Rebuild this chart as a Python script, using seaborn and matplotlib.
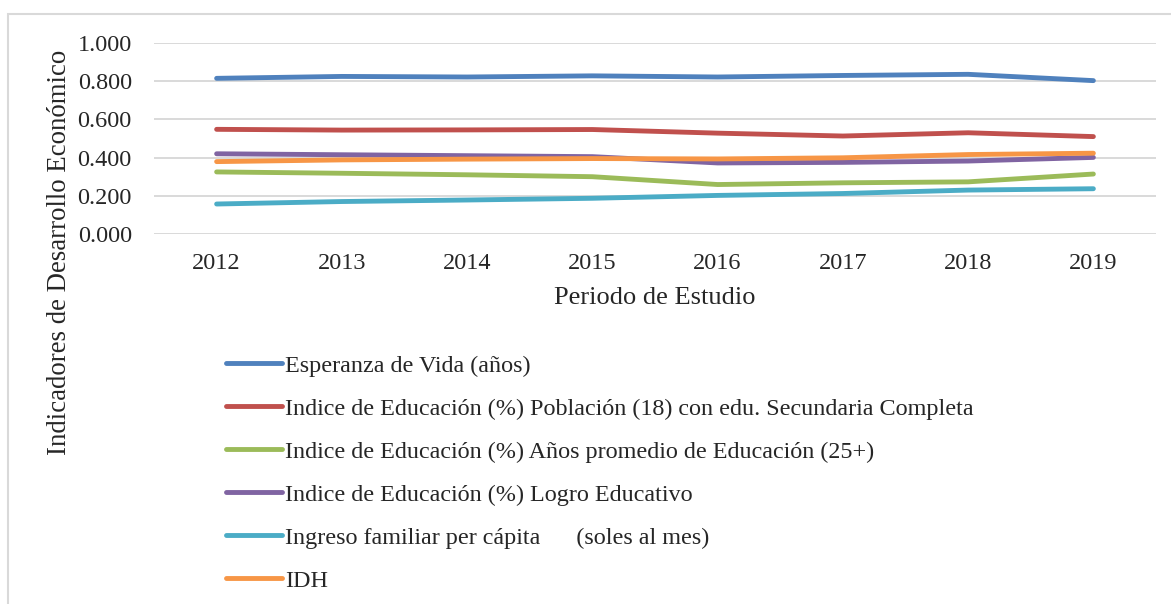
import matplotlib
matplotlib.use('Agg')
import matplotlib.pyplot as plt
import seaborn as sns
import pandas as pd
from matplotlib.patches import Rectangle

# data
years = [2012, 2013, 2014, 2015, 2016, 2017, 2018, 2019]
series_names = [
    "Esperanza de Vida (años)",
    "Indice de Educación (%) Población (18) con edu. Secundaria Completa",
    "Indice de Educación (%) Años promedio de Educación (25+)",
    "Indice de Educación (%) Logro Educativo",
    "Ingreso familiar per cápita      (soles al mes)",
    "IDH",
]
esperanza = [0.815, 0.825, 0.822, 0.828, 0.822, 0.830, 0.836, 0.803]
edu_secundaria = [0.548, 0.544, 0.545, 0.547, 0.528, 0.513, 0.530, 0.510]
edu_anios = [0.325, 0.318, 0.310, 0.300, 0.259, 0.268, 0.273, 0.314]
edu_logro = [0.420, 0.415, 0.410, 0.405, 0.372, 0.375, 0.382, 0.401]
ingreso = [0.157, 0.170, 0.178, 0.187, 0.202, 0.212, 0.230, 0.237]
idh = [0.379, 0.388, 0.392, 0.395, 0.393, 0.399, 0.416, 0.423]
colors = ["#4F81BD", "#C0504D", "#9BBB59", "#8064A2", "#4BACC6", "#F79646"]

values = [esperanza, edu_secundaria, edu_anios, edu_logro, ingreso, idh]
rows = []
for name, vals in zip(series_names, values):
    for i, v in enumerate(vals):
        rows.append({"pos": i, "year": years[i], "serie": name, "valor": v})
df = pd.DataFrame(rows)

sns.set_theme(style="white")
plt.rcParams['font.family'] = ['Liberation Serif', 'DejaVu Serif']

fig = plt.figure(figsize=(11.71, 6.04), dpi=100)
ax = fig.add_axes([154 / 1171, 1 - 234 / 604, 1002 / 1171, 191 / 604])

sns.lineplot(data=df, x="pos", y="valor", hue="serie", hue_order=series_names,
             palette=colors, linewidth=3.5, sort=False, ax=ax,
             solid_capstyle='round')

ax.set_xlim(-0.5, len(years) - 0.5)
ax.set_ylim(0, 1.0)
ax.set_xticks(range(len(years)))
ax.set_xticklabels([str(y) for y in years])
ax.set_yticks([0, 0.2, 0.4, 0.6, 0.8, 1.0])
ax.set_yticklabels([f"{v:.3f}" for v in [0, 0.2, 0.4, 0.6, 0.8, 1.0]])
ax.yaxis.grid(True, color="#D9D9D9", linewidth=1.4)
ax.set_axisbelow(True)
for s in ax.spines.values():
    s.set_visible(False)
ax.tick_params(axis='x', length=0, pad=14, labelsize=17.5)
ax.tick_params(axis='y', length=0, pad=16, labelsize=17.5)
ax.set_xlabel("Periodo de Estudio", fontsize=19, labelpad=9)
ax.set_ylabel("")

fig.text(60 / 1171, 1 - 252 / 604, "Indicadores de Desarrollo Económico",
         rotation=90, ha='center', va='center', fontsize=19.3)

handles, labels = ax.get_legend_handles_labels()
ax.get_legend().remove()
leg = fig.legend(handles, labels, loc='upper left',
                 bbox_to_anchor=(226 / 1171, 1 - 355 / 604),
                 frameon=False, fontsize=17.4, handlelength=2.3,
                 handletextpad=0.15, labelspacing=0.87, borderpad=0,
                 borderaxespad=0)
for line in leg.get_lines():
    line.set_linewidth(3.5)
    line.set_solid_capstyle('round')

# outer chart frame (cut by the image edges)
fig.patches.append(Rectangle((8 / 1171, -0.1), 1.2, 1.1 - 14 / 604,
                             transform=fig.transFigure, fill=False,
                             edgecolor="#D9D9D9", linewidth=1.5))

fig.savefig("out.png", dpi=100)
